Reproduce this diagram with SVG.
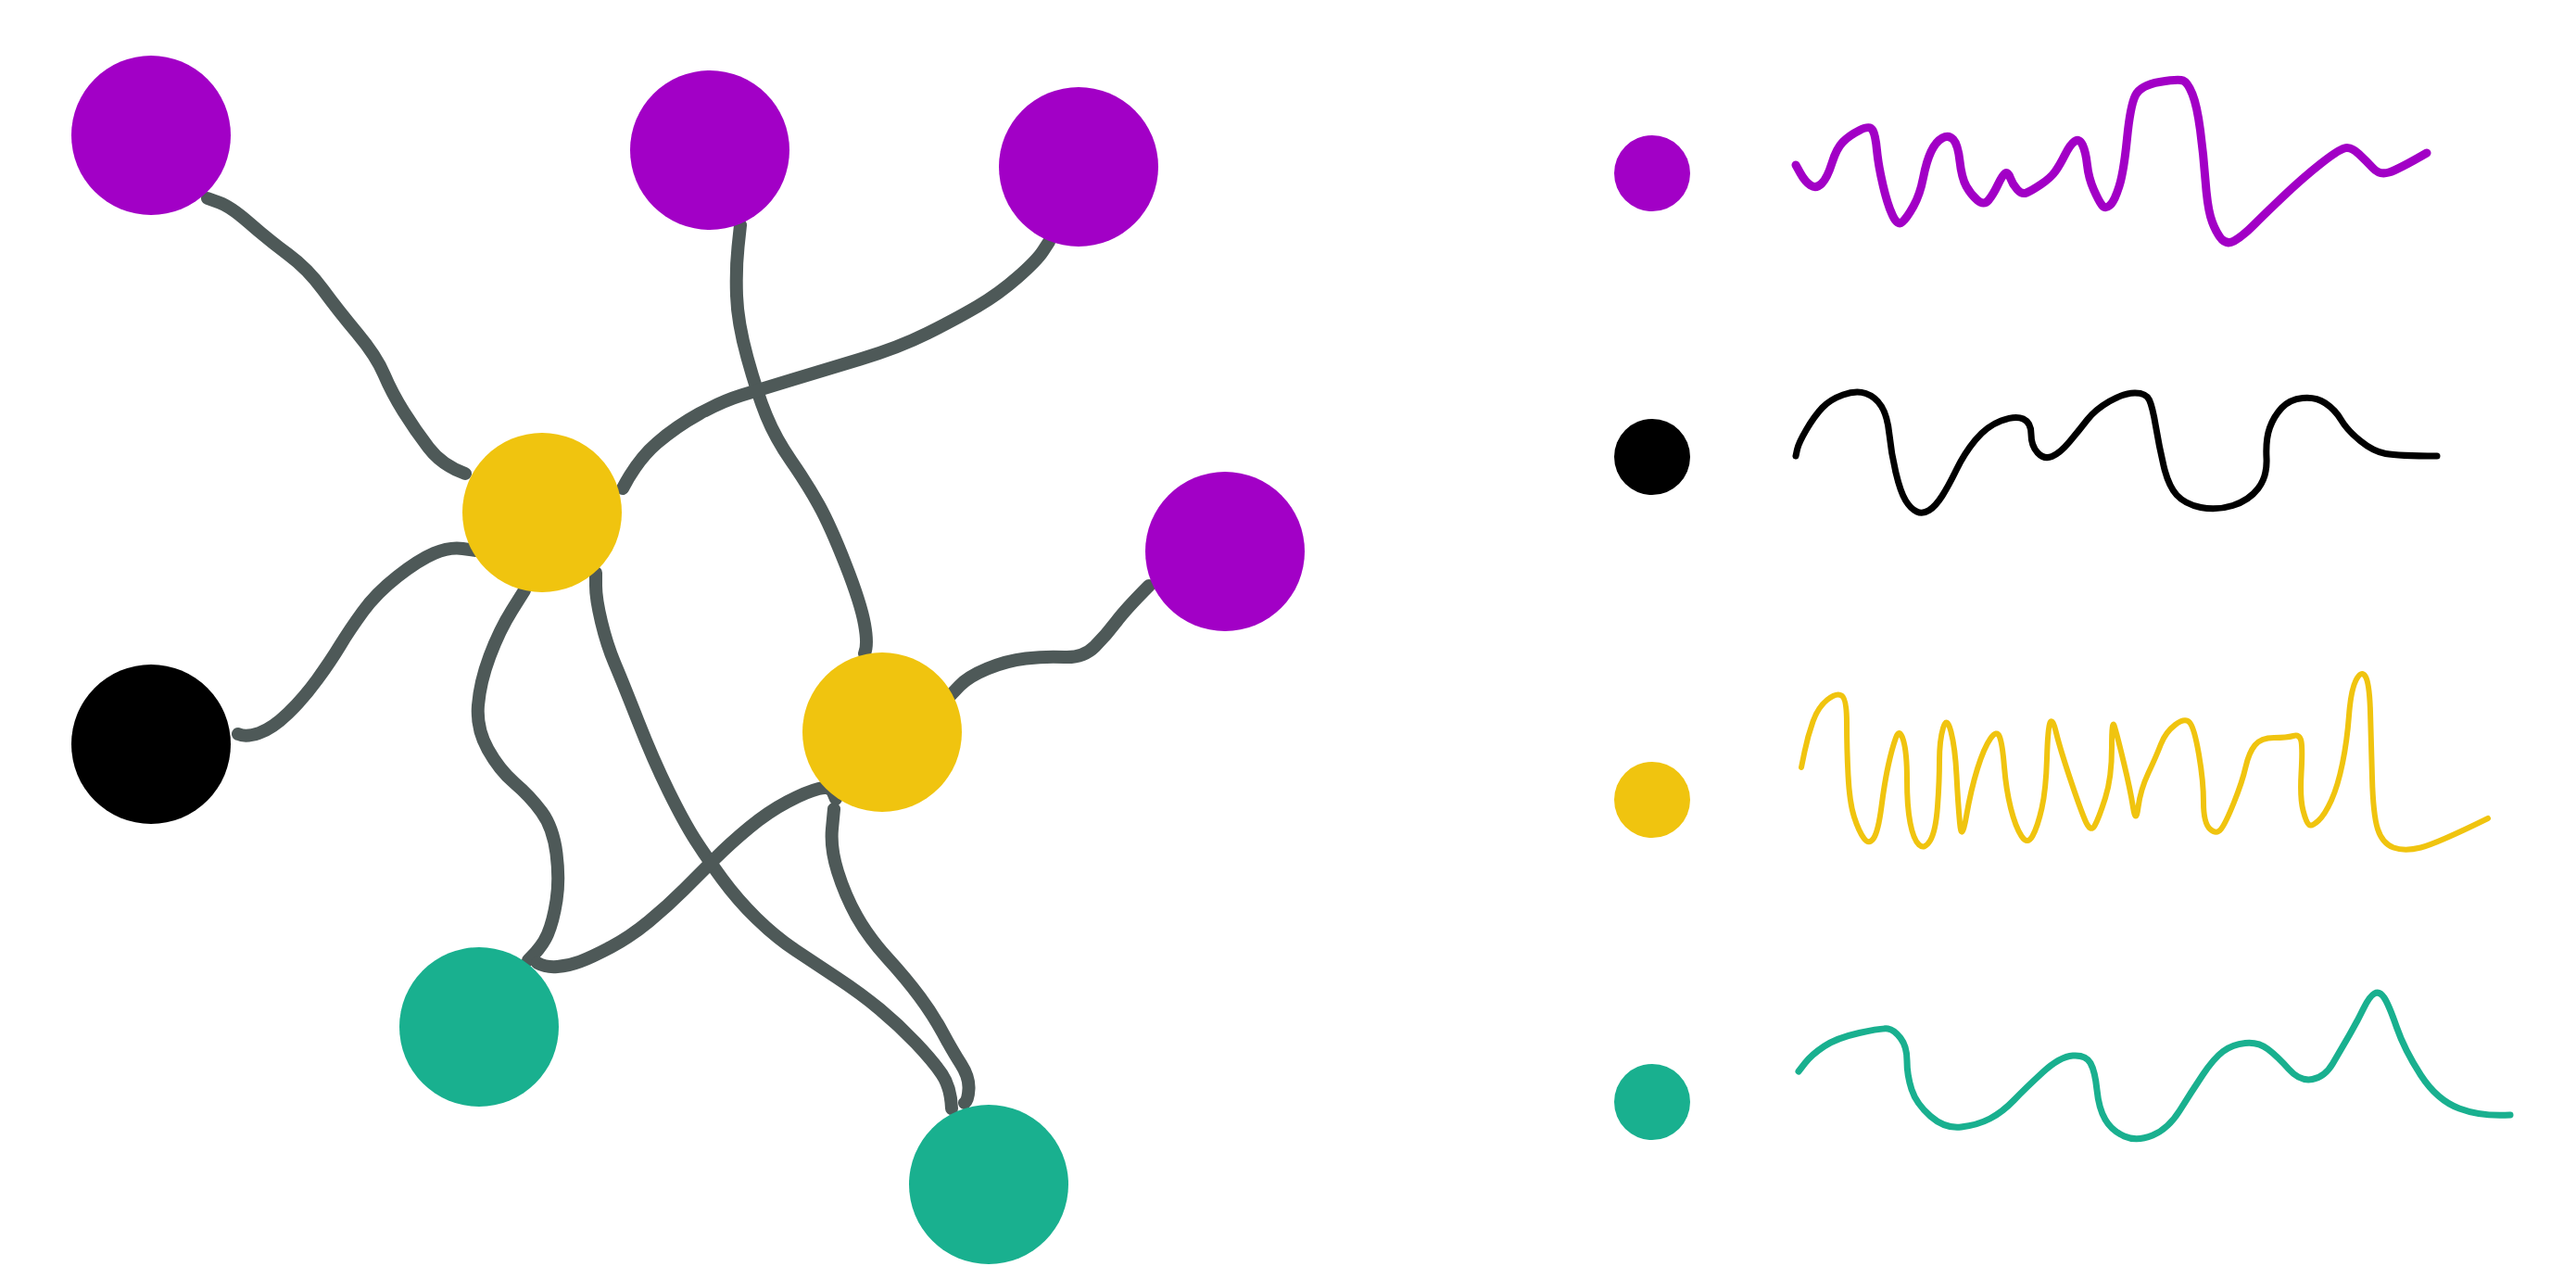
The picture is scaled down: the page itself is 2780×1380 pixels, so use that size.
<svg xmlns="http://www.w3.org/2000/svg" width="2780" height="1380" viewBox="0 0 2780 1380">
<style>
.c{fill:none;stroke:#4e5958;stroke-width:14;stroke-linecap:round;stroke-linejoin:round}
.s{fill:none;stroke-linecap:round;stroke-linejoin:round}
.p{fill:#a200c6}.y{fill:#f0c40f}.t{fill:#19b08f}.k{fill:#000}
</style>
<rect width="2780" height="1380" fill="#fff"/>
<g id="connectors">
<path class="c" d="M224,214 L236.5,218.5 Q249,223 269.5,241 Q290,259 311,274.5 Q332,290 348.5,312.5 Q365,335 385.5,359.5 Q406,384 414.5,404 Q423,424 435.5,444 Q448,464 462.5,483 Q477,502 502,511"/>
<path class="c" d="M799,243 L796.5,266.5 Q794,290 795,319 Q796,348 806.5,386 Q817,424 827,448.5 Q837,473 854,497.5 Q871,522 883.5,544.5 Q896,567 912.5,609 Q929,651 933,673.5 Q937,696 933,705"/>
<path class="c" d="M1132,261 L1125.5,271 Q1119,281 1098.5,299 Q1078,317 1055,330.5 Q1032,344 1001,359.5 Q970,375 928.5,387.5 Q887,400 854,410 Q821,420 800,426.5 Q779,433 754.5,446.5 Q730,460 709,478 Q688,496 672,527"/>
<path class="c" d="M514,594 L499.5,592 Q485,590 468.5,597 Q452,604 429,622 Q406,640 391.5,660 Q377,680 367,696.5 Q357,713 342.5,733 Q328,753 311,769.5 Q294,786 279.5,791 Q265,796 257,792"/>
<path class="c" d="M566,637 L552.5,658.5 Q539,680 528.5,708 Q518,736 516,761 Q514,786 526.5,808.5 Q539,831 555.5,845 Q572,859 584.5,876 Q597,893 600.5,921 Q604,949 600.5,971.5 Q597,994 591,1008 Q585,1022 570,1036"/>
<path class="c" d="M643,618 L643,632 Q643,646 649,671 Q655,696 663.5,716 Q672,736 688.5,778 Q705,820 721.5,853.5 Q738,887 750.5,906.5 Q763,926 779.5,948.5 Q796,971 816.5,991 Q837,1011 858,1025 Q879,1039 904,1055.5 Q929,1072 949.5,1089 Q970,1106 988.5,1125.5 Q1007,1145 1016.5,1159 Q1026,1173 1027,1196"/>
<path class="c" d="M902,862 L899,855 Q896,848 883.5,851 Q871,854 850,865 Q829,876 808.5,893 Q788,910 771.5,926.5 Q755,943 738,960 Q721,977 700.5,994 Q680,1011 659,1022 Q638,1033 626,1037.5 Q614,1042 601.5,1043 Q589,1044 580,1039"/>
<path class="c" d="M900,873 L898,894 Q896,915 904,940.5 Q912,966 924.5,988.5 Q937,1011 957.5,1033.5 Q978,1056 992.5,1075.5 Q1007,1095 1017.5,1114.5 Q1028,1134 1037,1148 Q1046,1162 1045.5,1174.5 Q1045,1187 1041,1190"/>
<path class="c" d="M1026,750 L1035.5,740 Q1045,730 1065.5,721.5 Q1086,713 1107,710.5 Q1128,708 1148.5,709 Q1169,710 1181.5,697.5 Q1194,685 1204.5,671 Q1215,657 1240,632"/>
</g>
<g id="node-purple-1"><circle class="p" cx="163" cy="146" r="86"/></g>
<g id="node-purple-2"><circle class="p" cx="766" cy="162" r="86"/></g>
<g id="node-purple-3"><circle class="p" cx="1164" cy="180" r="86"/></g>
<g id="node-purple-4"><circle class="p" cx="1322" cy="595" r="86"/></g>
<g id="node-yellow-1"><circle class="y" cx="585" cy="553" r="86"/></g>
<g id="node-yellow-2"><circle class="y" cx="952" cy="790" r="86"/></g>
<g id="node-black"><circle class="k" cx="163" cy="803" r="86"/></g>
<g id="node-teal-1"><circle class="t" cx="517" cy="1108" r="86"/></g>
<g id="node-teal-2"><circle class="t" cx="1067" cy="1278" r="86"/></g>
<g id="legend">
<circle class="p" cx="1783" cy="187" r="41"/>
<circle class="k" cx="1783" cy="493" r="41"/>
<circle class="y" cx="1783" cy="863" r="41"/>
<circle class="t" cx="1783" cy="1189" r="41"/>
<path class="s" stroke="#a200c6" stroke-width="9" d="M1938,178 L1943,187 Q1948,196 1954,200 Q1960,204 1966,198 Q1972,192 1977,176 Q1982,160 1989,153 Q1996,146 2007,140.5 Q2018,135 2021,140.5 Q2024,146 2025.5,162 Q2027,178 2032,199.5 Q2037,221 2042.5,232.5 Q2048,244 2053,239.5 Q2058,235 2065,222.5 Q2072,210 2075.5,192 Q2079,174 2084,163.5 Q2089,153 2096,149 Q2103,145 2108,150.5 Q2113,156 2115,174 Q2117,192 2122,201 Q2127,210 2134,216 Q2141,222 2146,216 Q2151,210 2156,199.5 Q2161,189 2164,187 Q2167,185 2169.5,192 Q2172,199 2177,204.5 Q2182,210 2187,208 Q2192,206 2202.5,199 Q2213,192 2218,185 Q2223,178 2228.5,167 Q2234,156 2239,152.5 Q2244,149 2247.5,156.5 Q2251,164 2252.5,178 Q2254,192 2259.5,204.5 Q2265,217 2268.5,221.5 Q2272,226 2277,221.5 Q2282,217 2287,201 Q2292,185 2295.5,149.5 Q2299,114 2304.5,103 Q2310,92 2330.5,88.5 Q2351,85 2356,87 Q2361,89 2366,101.5 Q2371,114 2374.5,140.5 Q2378,167 2380,194 Q2382,221 2385.5,233.5 Q2389,246 2395.5,255.5 Q2402,265 2411,260 Q2420,255 2432,243 Q2444,231 2464.5,211.5 Q2485,192 2504,177 Q2523,162 2530,160 Q2537,158 2545.5,166 Q2554,174 2561,181.5 Q2568,189 2578,186 Q2588,183 2619,165"/>
<path class="s" stroke="#000" stroke-width="7" d="M1938,492 L1939.5,485 Q1941,478 1949.5,463.5 Q1958,449 1966.5,440 Q1975,431 1989,426 Q2003,421 2013.5,424.5 Q2024,428 2030.5,438.5 Q2037,449 2039,469 Q2041,489 2046,510 Q2051,531 2056.5,540 Q2062,549 2068.5,552 Q2075,555 2082,550.5 Q2089,546 2096,535 Q2103,524 2111.5,506.5 Q2120,489 2132,474.5 Q2144,460 2159.5,454 Q2175,448 2183.5,452 Q2192,456 2192,468.5 Q2192,481 2199,488.5 Q2206,496 2214.5,492.5 Q2223,489 2233.5,476.5 Q2244,464 2252.5,453 Q2261,442 2276.5,433 Q2292,424 2304,424 Q2316,424 2319.5,431.5 Q2323,439 2326.5,460 Q2330,481 2335,502.5 Q2340,524 2349,534 Q2358,544 2375,547.5 Q2392,551 2409.5,545.5 Q2427,540 2437,527 Q2447,514 2446,494 Q2445,474 2449.5,461.5 Q2454,449 2462.5,440 Q2471,431 2485,429.5 Q2499,428 2509.5,435 Q2520,442 2526.5,453 Q2533,464 2547,475.5 Q2561,487 2574.5,489.5 Q2588,492 2630,492"/>
<path class="s" stroke="#f0c40f" stroke-width="6" d="M1944,828 L1947.5,811 Q1951,794 1956.5,778.5 Q1962,763 1972,755 Q1982,747 1987.5,750.5 Q1993,754 1993,780.5 Q1993,807 1994.5,836.5 Q1996,866 2001,881.5 Q2006,897 2011.5,904.5 Q2017,912 2022,904.5 Q2027,897 2030.5,870 Q2034,843 2038,825 Q2042,807 2046,796 Q2050,785 2054,798.5 Q2058,812 2058,841 Q2058,870 2061.5,888 Q2065,906 2071,911.5 Q2077,917 2083,907 Q2089,897 2091,870 Q2093,843 2093,821 Q2093,799 2097,785.5 Q2101,772 2105.5,789.5 Q2110,807 2111.5,836.5 Q2113,866 2115,888 Q2117,910 2122,881 Q2127,852 2134,829.5 Q2141,807 2148,797 Q2155,787 2158,795 Q2161,803 2163,827.5 Q2165,852 2170,872 Q2175,892 2181.5,902 Q2188,912 2193.5,902 Q2199,892 2203.5,872 Q2208,852 2209,818.5 Q2210,785 2212.5,779.5 Q2215,774 2219,790.5 Q2223,807 2233.5,838.5 Q2244,870 2250,884.5 Q2256,899 2260.5,891 Q2265,883 2272,861 Q2279,839 2279,806.5 Q2279,774 2282,784 Q2285,794 2292,823 Q2299,852 2302,871 Q2305,890 2307.5,871 Q2310,852 2318.5,834 Q2327,816 2332,803 Q2337,790 2347.5,782 Q2358,774 2363,779.5 Q2368,785 2373,814 Q2378,843 2378,865.5 Q2378,888 2385,894.5 Q2392,901 2397,894.5 Q2402,888 2411,865.5 Q2420,843 2423.5,827.5 Q2427,812 2433.5,804 Q2440,796 2454,796 Q2468,796 2475,794 Q2482,792 2483.5,800 Q2485,808 2483.5,834.5 Q2482,861 2485.5,874.5 Q2489,888 2492,890 Q2495,892 2502,885.5 Q2509,879 2516,863.5 Q2523,848 2528,823.5 Q2533,799 2535,772 Q2537,745 2542.5,734 Q2548,723 2552.5,729.5 Q2557,736 2558,767.5 Q2559,799 2560,839 Q2561,879 2566,894.5 Q2571,910 2583,914.5 Q2595,919 2612.5,914.5 Q2630,910 2685,883"/>
<path class="s" stroke="#19b08f" stroke-width="7" d="M1941,1156 L1948,1147 Q1955,1138 1968.5,1129 Q1982,1120 2006.5,1114.5 Q2031,1109 2037.5,1110 Q2044,1111 2051,1120 Q2058,1129 2058,1144.5 Q2058,1160 2063,1175.5 Q2068,1191 2083.5,1204.5 Q2099,1218 2116.5,1216 Q2134,1214 2147.5,1207 Q2161,1200 2173.5,1187 Q2186,1174 2204.5,1157 Q2223,1140 2237,1139 Q2251,1138 2256,1147 Q2261,1156 2263,1176 Q2265,1196 2272,1208 Q2279,1220 2292.5,1226 Q2306,1232 2323,1225 Q2340,1218 2352.5,1198 Q2365,1178 2377,1160 Q2389,1142 2399,1134.5 Q2409,1127 2423,1125.5 Q2437,1124 2447.5,1132 Q2458,1140 2470,1153.5 Q2482,1167 2495.5,1164.5 Q2509,1162 2517.5,1147.5 Q2526,1133 2535,1117.5 Q2544,1102 2550.5,1088.5 Q2557,1075 2562.5,1072 Q2568,1069 2573,1076.5 Q2578,1084 2586.5,1108.5 Q2595,1133 2612.5,1160 Q2630,1187 2654,1196 Q2678,1205 2709,1203"/>
</g>
</svg>
